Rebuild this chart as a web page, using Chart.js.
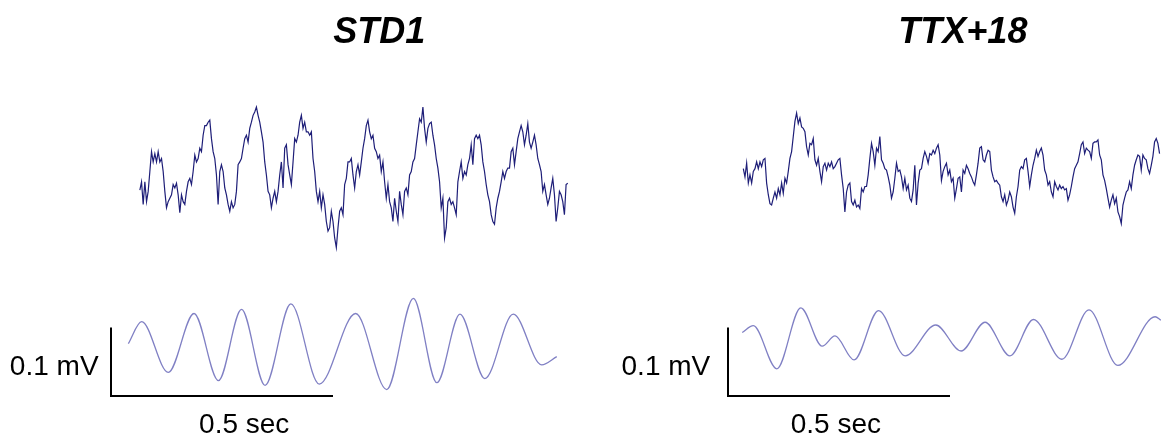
<!DOCTYPE html>
<html>
<head>
<meta charset="utf-8">
<script src="https://cdn.jsdelivr.net/npm/chart.js@4"></script>
<style>
  html, body { margin: 0; padding: 0; background: #fff; }
  #wrap { position: relative; width: 1161px; height: 437px; overflow: hidden; }
  canvas { position: absolute; top: 0; }
  #stdChart { left: 0; }
  #ttxChart { left: 580px; }
</style>
</head>
<body>
<div id="wrap">
  <canvas id="stdChart" width="580" height="437"></canvas>
  <canvas id="ttxChart" width="581" height="437"></canvas>
</div>
<script>
// sampling of the raw recordings (ms)
const rawStep = 3.75;

// STD1 raw trace (uV), first sample at 65 ms
const stdRawStart = 65;
const stdRaw = [
  -19, -7, -40, -7, -36, -21, 8, 37, 22, 34,
  22, 37, 22, 27, 8, -21, -45, -36, -31, -26,
  -11, -16, -9, -26, -52, -26, -36, -40, -21, -7,
  -2, -11, 8, 32, 22, 27, 42, 37, 61, 75,
  75, 80, 83, 56, 37, 27, 3, -40, 8, 18,
  8, -16, -26, -40, -50, -36, -45, -40, -21, 18,
  22, 27, 42, 56, 61, 51, 71, 80, 90, 95,
  102, 90, 80, 66, 51, 22, 3, -21, -26, -45,
  -31, -21, -36, -21, 3, 22, -16, 42, 47, 18,
  3, -11, 22, 56, 51, 61, 80, 90, 71, 80,
  66, 66, 61, 66, 27, 8, -21, -36, -21, -45,
  -26, -40, -65, -79, -74, -50, -65, -89, -103, -74,
  -50, -45, -55, -11, -2, 22,
  22, 27, 3, -16, 8, 18, 3, 22, 42, 56,
  75, 83, 66, 56, 61, 42, 37, 27, 32, 8,
  22, -7, -31, -11, -36, -45, -65, -31, -50, -65,
  -21, -40, -55, -21, -16, -26, 3, 8, 22, 27,
  47, 66, 85, 80, 102, 71, 51, 71, 78, 80,
  61, 47, 27, 13, -7, -45, -31, -89, -74, -36,
  -31, -40, -36, -45, -55, -7, 8, 22, -2, 8,
  3, 18, 27, 47, 18, 56, 61, 56, 61, 47,
  22, 8, -11, -26, -36, -55, -65, -69, -45, -31,
  -21, -7, 8, -2, 8, 13, 13, 37, 42, 18,
  37, 56, 66, 75, 66, 47, 61, 78, 51, 42,
  51, 61, 47, 27, 18, 8, -21, -11, -26, -40,
  -31, -16, -2, -26, -65, -45, -21, -26, -36, -55, -11, -9
];

// STD1 filtered trace: turning points (ms, uV)
const stdFiltTime = [39, 69, 129, 187, 242, 294, 347, 405, 469, 551, 621, 681, 734, 786, 842, 906, 970, 1004];
const stdFiltVal  = [2, 34, -40, 46, -52, 52, -59, 60, -57, 46, -65, 68, -55, 45, -49, 45, -29, -17];

// TTX+18 raw trace (uV), first sample at 34.5 ms
const ttxRawStart = 34.5;
const ttxRaw = [
  -1, -13, 7, -22, -10, -22, -5, -1, 9, -1,
  9, 2, 12, 14, -22, -39, -52, -54, -44, -35,
  -44, -30, -39, -22, -37, -15, -22, -5, 14, 24,
  46, 68, 80, 65, 73, 60, 58, 53, 31, 19,
  36, 34, 43, 12, 4, 14, -5, -20, 2, 7,
  -3, 7, 2, 9, -1, 2, 7, 12, 14, -10,
  -30, -64, -35, -25, -22, -49, -54, -47, -57, -54,
  -59, -30, -35, -27, -27, -10, 14, 36, 24, 4,
  29, 24, 46, 12, 7, -1, -3, -13, -25, -44,
  -35, -15, 7, -5, -3, -13, -30, -15, -32, -25,
  -44, -49, -32, 4, -54, -22, -3, -1, 14, 24,
  17, 7, 21, 19, 26, 21, 29, 34, 19, -18,
  -5, 2, 7, -10, -3, -20,
  -15, -44, -30, -15, -13, -35, -3, -8, 4, -1,
  -8, -13, -20, -25, -10, 7, 29, 31, 12, 9,
  19, 26, 24, -3, -13, -20, -18, -22, -25, -42,
  -49, -39, -54, -47, -35, -42, -57, -66, -42, -27,
  -3, 2, -1, 12, 14, -5, -27, -10, 4, 14,
  26, 17, 24, 29, 19, -3, -10, -25, -20, -35,
  -42, -20, -27, -32, -25, -30, -27, -32, -30, -47,
  -39, -27, -13, -1, 4, 9, 21, 34, 38, 21,
  29, 26, 24, 14, 36, 38, 38, 41, 19, 12,
  -10, -18, -30, -44, -57, -47, -39, -52, -44, -64,
  -71, -81, -54, -44, -35, -32, -20, -30, -10, 4,
  12, 19, 17, -3, 19, 14, 12, -1, -8, 4,
  17, 38, 43, 36, 21
];

// TTX+18 filtered trace: turning points (ms, uV)
const ttxFiltTime = [32, 57, 110, 164, 212, 241, 284, 339, 399, 468, 525, 579, 635, 688, 752, 813, 878, 962, 975];
const ttxFiltVal  = [8, 18, -45, 44, -12, 3, -32, 40, -26, 19, -19, 23, -26, 27, -31, 41, -40, 31, 26];

// scale bar: 0.1 mV x 0.5 sec
const barTime = [0, 0, 500];
const barVal = [100, 0, 0];

const pxPerMs = 0.444;
const pxPerUv = 0.685;
const H = 437;

function xRange(zeroPx, width) {
    return { min: -zeroPx / pxPerMs, max: (width - zeroPx) / pxPerMs };
}
function yRange(zeroPx) {
    return { min: -(H - zeroPx) / pxPerUv, max: zeroPx / pxPerUv };
}

function textPlugin(items) {
    return {
        id: 'panelText',
        afterDraw(chart) {
            const ctx = chart.ctx;
            const xs = chart.scales.x, ys = chart.scales.yBar;
            ctx.save();
            ctx.fillStyle = '#000';
            ctx.textBaseline = 'alphabetic';
            items.forEach(it => {
                ctx.font = it.font;
                ctx.textAlign = it.align;
                ctx.fillText(it.text, xs.getPixelForValue(it.x), ys.getPixelForValue(it.y));
            });
            ctx.restore();
        }
    };
}

const titleFont = 'italic bold 36px "Liberation Sans", Arial, sans-serif';
const labelFont = '28px "Liberation Sans", Arial, sans-serif';

function makePanel(canvasId, p) {
    const ctx = document.getElementById(canvasId).getContext('2d');
    const xr = xRange(p.xZero, p.width);
    return new Chart(ctx, {
        type: 'line',
        data: {
            datasets: [
                {
                    label: 'raw',
                    data: p.raw.map((v, i) => ({ x: p.rawStart + i * rawStep, y: v })),
                    yAxisID: 'yRaw',
                    borderColor: '#1e1e78',
                    borderWidth: 1.2,
                    tension: 0
                },
                {
                    label: 'filtered',
                    data: p.filtTime.map((t, i) => ({ x: t, y: p.filtVal[i] })),
                    yAxisID: 'yFilt',
                    borderColor: '#8080c4',
                    borderWidth: 1.3,
                    cubicInterpolationMode: 'monotone'
                },
                {
                    label: 'scale bar',
                    data: barTime.map((t, i) => ({ x: t, y: barVal[i] })),
                    yAxisID: 'yBar',
                    borderColor: '#000',
                    borderWidth: 2,
                    tension: 0,
                    borderJoinStyle: 'miter'
                }
            ]
        },
        options: {
            responsive: false,
            animation: false,
            events: [],
            layout: { padding: 0 },
            elements: { point: { radius: 0 } },
            plugins: {
                legend: { display: false },
                tooltip: { enabled: false },
                title: { display: false }
            },
            scales: {
                x: { type: 'linear', display: false, min: xr.min, max: xr.max },
                yRaw: Object.assign({ type: 'linear', display: false }, yRange(p.rawZero)),
                yFilt: Object.assign({ type: 'linear', display: false }, yRange(p.filtZero)),
                yBar: Object.assign({ type: 'linear', display: false }, yRange(396))
            }
        },
        plugins: [textPlugin([
            { text: p.title, x: p.titleX, y: 515, align: 'center', font: titleFont },
            { text: '0.1 mV', x: p.mvX, y: 31, align: 'right', font: labelFont },
            { text: '0.5 sec', x: p.secX, y: -54, align: 'center', font: labelFont }
        ])]
    });
}

const stdChart = makePanel('stdChart', {
    width: 580, xZero: 111, rawZero: 177, filtZero: 345,
    raw: stdRaw, rawStart: stdRawStart,
    filtTime: stdFiltTime, filtVal: stdFiltVal,
    title: 'STD1', titleX: 604, mvX: -28, secX: 300
});

const ttxChart = makePanel('ttxChart', {
    width: 581, xZero: 148, rawZero: 168, filtZero: 338,
    raw: ttxRaw, rawStart: ttxRawStart,
    filtTime: ttxFiltTime, filtVal: ttxFiltVal,
    title: 'TTX+18', titleX: 529, mvX: -40, secX: 243
});
</script>
</body>
</html>
